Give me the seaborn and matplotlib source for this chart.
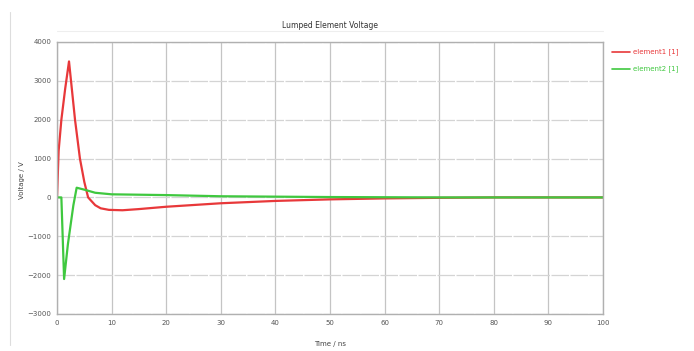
import numpy as np
import pandas as pd
import matplotlib
matplotlib.use("Agg")
import matplotlib.pyplot as plt
import seaborn as sns

# data
t_red = [0, 0.3, 0.8, 1.5, 2.2, 3.3, 4.2, 5.0, 5.7, 7.0, 8.0, 9.5, 12, 15, 20, 30, 40, 50, 60, 70, 80, 100]
v_red = [0, 1200, 2000, 2800, 3500, 2000, 1000, 400, 0, -200, -280, -320, -330, -300, -240, -150, -90, -50, -25, -10, 0, 0]
t_green = [0, 0.8, 1.3, 2.0, 3.0, 3.6, 5.0, 7.0, 10, 20, 30, 50, 70, 100]
v_green = [0, 0, -2100, -1200, -200, 250, 200, 120, 80, 60, 30, 10, 0, 0]
series_names = ["element1 [1]", "element2 [1]"]
x_ticks = [0, 10, 20, 30, 40, 50, 60, 70, 80, 90, 100]
y_ticks = [-3000, -2000, -1000, 0, 1000, 2000, 3000, 4000]

df = pd.concat([
    pd.DataFrame({"t": t_red, "v": v_red, "s": series_names[0]}),
    pd.DataFrame({"t": t_green, "v": v_green, "s": series_names[1]}),
])

sns.set_style("white")
plt.rcParams['font.family'] = ['DejaVu Sans']

W, H = 694, 351
fig = plt.figure(figsize=(W / 100, H / 100), dpi=100)
ax = fig.add_axes([57 / W, 1 - 314 / H, (603 - 57) / W, (314 - 42) / H])

palette = {series_names[0]: "#e8383a", series_names[1]: "#3fc83f"}
sns.lineplot(data=df, x="t", y="v", hue="s", palette=palette, ax=ax,
             linewidth=1.6, legend=False, sort=False, estimator=None)

ax.set_xlim(0, 100)
ax.set_ylim(-3000, 4000)
ax.set_xticks(x_ticks)
ax.set_yticks(y_ticks)
ax.xaxis.grid(True, color="#c4c4c4", linewidth=0.9)
ax.yaxis.grid(True, color="#d4d4d4", linewidth=0.9, linestyle=(0, (14, 1.2)))
ax.tick_params(axis="both", which="major", labelsize=5, colors="#555555", length=2, width=0.6, pad=2)
for sp in ax.spines.values():
    sp.set_color("#b0b0b0")
    sp.set_linewidth(1.0)

ax.set_xlabel("")
ax.set_ylabel("")
fig.text(330 / W, 1 - 344 / H, "Time / ns", fontsize=5, color="#444444", ha="center", va="center")
fig.text(22 / W, 1 - 180 / H, "Voltage / V", fontsize=5, color="#444444", ha="center", va="center", rotation=90)
fig.text(330 / W, 1 - 25 / H, "Lumped Element Voltage", fontsize=5.5, color="#333333", ha="center", va="center")

# title underline and frame
fig.add_artist(plt.Line2D([57 / W, 603 / W], [1 - 31 / H, 1 - 31 / H], color="#eeeeee", linewidth=0.8))
fig.add_artist(plt.Line2D([10 / W, 10 / W], [1 - 12 / H, 1 - 345 / H], color="#dddddd", linewidth=0.8))

# legend
for i, name in enumerate(series_names):
    y = 1 - (52 + i * 17) / H
    fig.add_artist(plt.Line2D([612 / W, 630 / W], [y, y], color=palette[name], linewidth=1.2))
    fig.text(633 / W, y, name, fontsize=5, color=palette[name], ha="left", va="center")

fig.savefig("out.png", dpi=100)
